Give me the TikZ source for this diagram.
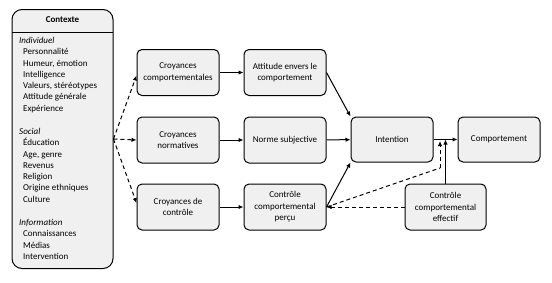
\documentclass[tikz,border=0pt]{standalone}
\usepackage{fontspec}
\setmainfont{Carlito}
\usetikzlibrary{arrows.meta}
\begin{document}
\begin{tikzpicture}[x=1pt,y=-1pt,
  box/.style={draw=black,line width=1pt,fill=gray!12,rounded corners=5pt,minimum width=82pt,minimum height=46pt,align=center,inner sep=1pt,font=\fontsize{9}{11.5}\selectfont},
  arr/.style={line width=1pt,-{Latex[length=5pt,width=4.5pt]}},
  darr/.style={arr,dash pattern=on 4pt off 3pt},
  dline/.style={line width=1pt,dash pattern=on 4pt off 3pt},
  lst/.style={anchor=north west,align=left,inner sep=0pt,font=\fontsize{9}{11.3}\selectfont}
]
\useasboundingbox (0,0) rectangle (552,282);
% Contexte
\node[draw=black,line width=1pt,fill=gray!12,rounded corners=10pt,minimum width=101pt,minimum height=259pt,inner sep=0pt] (ctx) at (62.5,139) {};
\coordinate (sepL) at (12,32);
\coordinate (sepR) at (113,32);
\draw[line width=0.8pt] (sepL) -- (sepR);
\node[font=\fontsize{9}{11}\selectfont\bfseries,inner sep=0pt] (ctxh) at (62.5,20) {Contexte};
\node[lst] (ind) at (19,37) {\itshape Individuel\\
\hspace*{4pt}Personnalité\\
\hspace*{4pt}Humeur, émotion\\
\hspace*{4pt}Intelligence\\
\hspace*{4pt}Valeurs, stéréotypes\\
\hspace*{4pt}Attitude générale\\
\hspace*{4pt}Expérience};
\node[lst] (soc) at (19,128) {\itshape Social\\
\hspace*{4pt}Éducation\\
\hspace*{4pt}Age, genre\\
\hspace*{4pt}Revenus\\
\hspace*{4pt}Religion\\
\hspace*{4pt}Origine ethniques\\
\hspace*{4pt}Culture};
\node[lst] (inf) at (19,219) {\itshape Information\\
\hspace*{4pt}Connaissances\\
\hspace*{4pt}Médias\\
\hspace*{4pt}Intervention};
% boxes
\node[box] (c1) at (178,72.5) {Croyances\\comportementales};
\node[box] (c2) at (178,140) {Croyances\\normatives};
\node[box] (c3) at (178,207) {Croyances de\\contrôle};
\node[box] (a1) at (285,72.5) {Attitude envers le\\comportement};
\node[box] (a2) at (285,140) {Norme subjective};
\node[box] (a3) at (285,207) {Contrôle\\comportemental\\perçu};
\node[box,minimum height=45pt] (int) at (392,139.5) {Intention};
\node[box,minimum height=45pt] (comp) at (499,139.5) {Comportement};
\node[box,minimum width=81pt] (eff) at (445.5,207) {Contrôle\\comportemental\\effectif};
% dashed arrows from context
\draw[darr] (ctx.east) -- ([yshift=-3pt]c1.west);
\draw[darr] (ctx.east) -- (c2.west);
\draw[darr] (ctx.east) -- ([yshift=4pt]c3.west);
% solid arrows
\draw[arr] (c1) -- (a1);
\draw[arr] (c2) -- (a2);
\draw[arr] (c3) -- (a3);
\draw[arr] (a1.east) -- (int.north west);
\draw[arr] (a2) -- (int);
\draw[arr] (a3.east) -- (int.south west);
\draw[arr] (int) -- (comp);
\coordinate (effup) at (eff.north -| 446,0);
\draw[arr] (eff.north) -- (eff.north |- int.east);
\coordinate (bend) at (440,168);
\draw[dline] (a3.east) -- (bend);
\draw[darr] (bend) -- (440,141);
\draw[darr] (eff.west) -- (a3.east);
\end{tikzpicture}
\end{document}
